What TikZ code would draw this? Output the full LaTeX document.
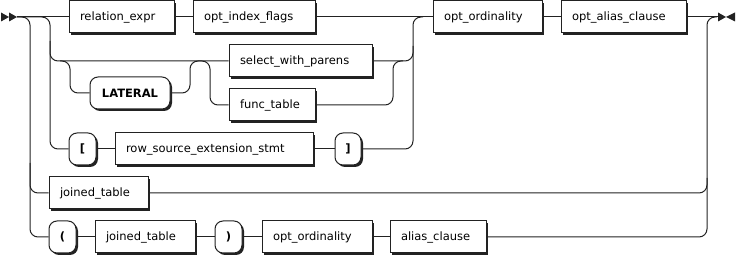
\documentclass[tikz,border=0pt]{standalone}
\usepackage{fontspec}
\setmainfont{DejaVu Sans}
\usetikzlibrary{calc,shadows}
\definecolor{rail}{HTML}{222222}

\begin{document}
\begin{tikzpicture}[x=1pt,y=1pt,line width=1pt,draw=rail,
    font=\fontsize{11.5}{14}\selectfont,
    shade/.style={draw=rail,fill=white,minimum height=32pt,inner ysep=0pt,
      drop shadow={shadow xshift=2pt,shadow yshift=-2pt,fill=rail,opacity=1}},
    nonterm/.style={shade,text width=#1,align=left,inner xsep=11pt},
    term/.style={shade,rounded corners=8pt,inner xsep=0pt,
      font=\fontsize{11.5}{14}\selectfont\bfseries}]
    \useasboundingbox (0,0) rectangle (737,257);
    % start and end marks
    \fill[rail] (1,244.5) -- (9,240) -- (1,235.5) -- cycle;
    \fill[rail] (9,244.5) -- (17,240) -- (9,235.5) -- cycle;
    \fill[rail] (718,244.5) -- (726,240) -- (718,235.5) -- cycle;
    \fill[rail] (735,244.5) -- (726,240) -- (735,235.5) -- cycle;
    \coordinate (begin) at (17,240);
    \coordinate (finish) at (718,240);
    % first row
    \node[nonterm=83pt] (relexpr) at (121.5,240) {relation\_expr};
    \node[nonterm=100pt] (idxflags) at (254,240) {opt\_index\_flags};
    \node[nonterm=87pt] (ord1) at (487.5,240) {opt\_ordinality};
    \node[nonterm=103pt] (optalias) at (623.5,240) {opt\_alias\_clause};
    % select / func_table
    \node[nonterm=121pt] (swp) at (300.5,196) {select\_with\_parens};
    \node[term,minimum width=80pt] (lateral) at (130,164) {LATERAL};
    \node[nonterm=64pt] (functable) at (272,152) {func\_table};
    % row source extension
    \node[term,minimum width=27pt] (lbrack) at (82.5,108) {[};
    \node[nonterm=176pt] (rsext) at (214,108) {row\_source\_extension\_stmt};
    \node[term,minimum width=26pt] (rbrack) at (348,108) {]};
    % joined tables
    \node[nonterm=77pt] (joined1) at (98.5,64) {joined\_table};
    \node[term,minimum width=27pt] (lparen) at (62.5,20) {(};
    \node[nonterm=78pt] (joined2) at (145,20) {joined\_table};
    \node[term,minimum width=27pt] (rparen) at (228.5,20) {)};
    \node[nonterm=88pt] (ord2) at (317,20) {opt\_ordinality};
    \node[nonterm=74pt] (aliascl) at (438,20) {alias\_clause};
    % junctions
    \coordinate (ja) at (30,240);
    \coordinate (jb) at (50,240);
    \coordinate (jc) at (70,196);
    \coordinate (jd) at (190,196);
    \coordinate (je) at (210,196);
    \coordinate (jf) at (393,196);
    \coordinate (jg) at (413,240);
    \coordinate (jh) at (707,240);
    % straight runs
    \draw (begin) -- (relexpr) -- (idxflags) -- (ord1) -- (optalias) -- (finish);
    \draw (lbrack) -- (rsext) -- (rbrack);
    \draw (lparen) -- (joined2) -- (rparen) -- (ord2) -- (aliascl);
    % left rails
    \draw[rounded corners=8pt] (begin) -- (ja) |- (lparen.west);
    \draw[rounded corners=8pt] ($(ja |- joined1)+(0,30)$) |- (joined1.west);
    \draw[rounded corners=8pt] (begin) -- (jb) |- (lbrack.west);
    \draw[rounded corners=8pt] ($(jb |- swp)+(0,20)$) |- (swp.west);
    % optional LATERAL
    \draw[rounded corners=8pt] ($(jc)+(-10,0)$) -- (jc) |- (lateral.west);
    \draw[rounded corners=8pt] (lateral.east) -| (jd) -- ++(10,0);
    % func_table
    \draw[rounded corners=8pt] ($(je)+(-10,0)$) -- (je) |- (functable.west);
    \draw[rounded corners=8pt] (functable.east) -| (jf) -- ++(10,0);
    % right rails
    \draw[rounded corners=8pt] (swp.east) -| (jg) -- ++(10,0);
    \draw[rounded corners=8pt] (rbrack.east) -| ($(jg |- swp)+(0,15)$);
    \draw[rounded corners=8pt] (aliascl.east) -| (jh) -- ++(10,0);
    \draw[rounded corners=8pt] (joined1.east) -| ($(jh |- joined1)+(0,15)$);
\end{tikzpicture}
\end{document}
